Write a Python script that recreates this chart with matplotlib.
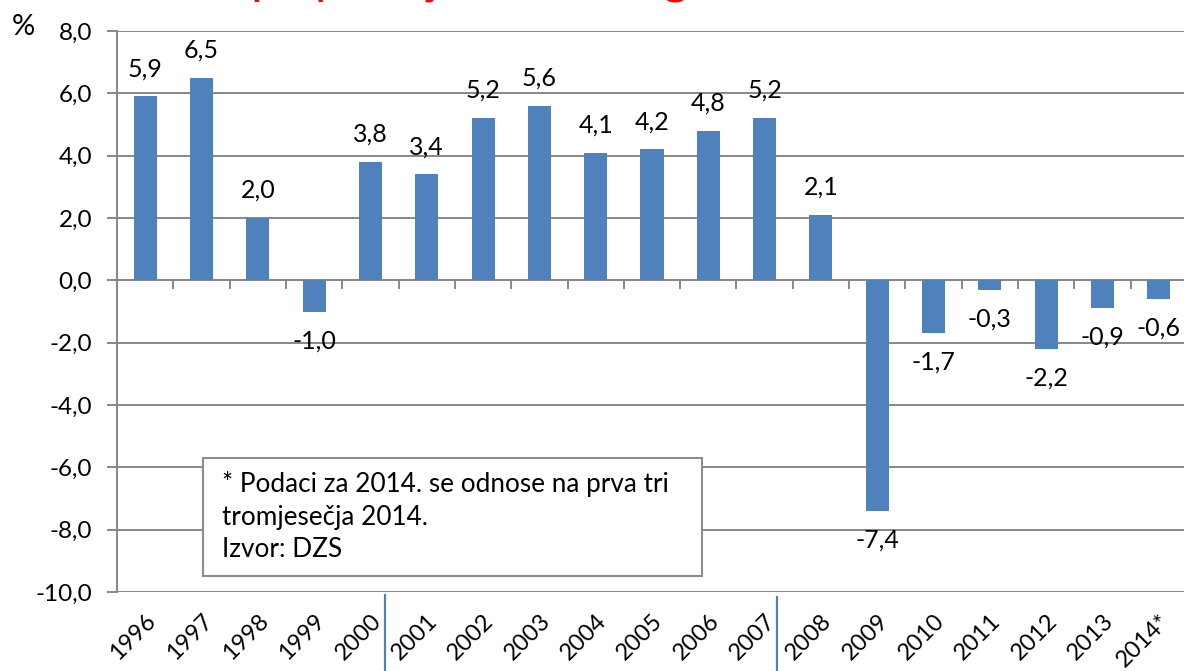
"""Stopa promjene realnog BDP-a, 1996-2014."""
import matplotlib
matplotlib.use("Agg")
import matplotlib.pyplot as plt
from matplotlib.patches import Rectangle
import numpy as np

years = ["1996", "1997", "1998", "1999", "2000", "2001", "2002", "2003", "2004", "2005",
         "2006", "2007", "2008", "2009", "2010", "2011", "2012", "2013", "2014*"]
growth = [5.9, 6.5, 2.0, -1.0, 3.8, 3.4, 5.2, 5.6, 4.1, 4.2,
          4.8, 5.2, 2.1, -7.4, -1.7, -0.3, -2.2, -0.9, -0.6]
yticks = [-10, -8, -6, -4, -2, 0, 2, 4, 6, 8]
title = "Stopa promjene realnog BDP-a"
note = "* Podaci za 2014. se odnose na prva tri\ntromjesečja 2014.\nIzvor: DZS"

plt.rcParams["font.family"] = ["Lato", "DejaVu Sans"]
BLUE = "#4F81BD"
GRID = "#878787"

fig = plt.figure(figsize=(11.84, 6.71), dpi=100)
W, H = 1184, 671
ax = fig.add_axes([117 / W, 1 - 592 / H, (1187 - 117) / W, (592 - 31) / H])

x = np.arange(len(years))
ax.bar(x, growth, width=0.41, color=BLUE, zorder=3)
for xi, v in zip(x, growth):
    off = 20 if v >= 0 else -21
    ax.annotate(f"{v:.1f}".replace(".", ","), (xi, v), xytext=(0, off),
                textcoords="offset points", ha="center", va="center", fontsize=18)

ax.set_xlim(-0.5, len(years) - 0.5)
ax.set_ylim(-10, 8)
ax.set_yticks(yticks)
ax.set_yticklabels([f"{t:.1f}".replace(".", ",") for t in yticks], fontsize=17.5)
ax.yaxis.grid(True, color=GRID, linewidth=1.4, zorder=0)
ax.tick_params(axis="y", length=7, width=1.4, color=GRID, pad=11)

# zero line with category boundary ticks
ax.axhline(0, color=GRID, linewidth=1.4, zorder=2)
bounds = np.arange(len(years) + 1) - 0.5
ax.vlines(bounds, -0.27, 0, color=GRID, linewidth=1.4, zorder=2)

ax.set_xticks(x)
ax.set_xticklabels(years, rotation=45, ha="right", va="top", rotation_mode="anchor",
                   fontsize=17)
ax.tick_params(axis="x", length=0, pad=13)

for s in ["top", "right", "bottom"]:
    ax.spines[s].set_visible(False)
ax.spines["left"].set_color(GRID)
ax.spines["left"].set_linewidth(1.4)

fig.text(12 / W, 1 - 27 / H, "%", fontsize=21, va="center", ha="left")

# note box
fig.patches.append(Rectangle((203 / W, 1 - 576 / H), (702 - 203) / W, (576 - 458) / H,
                             transform=fig.transFigure, facecolor="white",
                             edgecolor="#8c8c8c", linewidth=1.5, zorder=5))
fig.text(222 / W, 1 - 471 / H, note, fontsize=18.8, va="top", ha="left",
         linespacing=1.38, zorder=6)

# title cut off at top of slide
fig.text(180 / W, 1 + 7 / H, title, color="red", fontsize=35, va="baseline", ha="left")

# slide separator lines
for px, top in [(385, 595), (777, 597)]:
    fig.add_artist(plt.Line2D([px / W, px / W], [0, 1 - top / H], color=BLUE,
                              linewidth=1.6, transform=fig.transFigure))

fig.savefig("out.png", dpi=100)
plt.close(fig)
